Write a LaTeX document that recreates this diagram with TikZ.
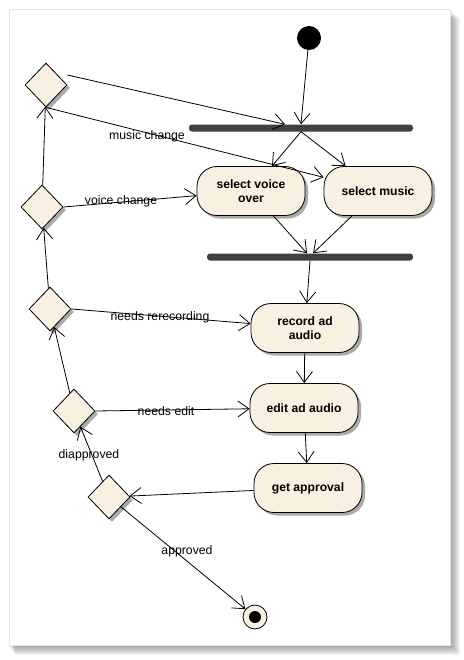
\documentclass[tikz,border=0pt]{standalone}
\usepackage{fontspec}
\setmainfont{Liberation Sans}
\usepackage{xcolor}
\usetikzlibrary{arrows.meta, shapes.geometric, shadows}

\definecolor{beige}{RGB}{248,240,224}
\definecolor{bargray}{RGB}{64,64,64}
\definecolor{shadegray}{RGB}{170,170,170}

\begin{document}
\begin{tikzpicture}[x=1bp, y=-1bp,
  action/.style={rectangle, rounded corners=20bp, draw, fill=beige, line width=0.8bp,
    minimum width=108bp, minimum height=49bp, align=center,
    font=\fontsize{12.2}{14}\selectfont\bfseries,
    drop shadow={shadow xshift=3bp, shadow yshift=-3bp, fill=shadegray, opacity=1}},
  decision/.style={diamond, draw, fill=beige, line width=0.8bp, inner sep=0,
    minimum width=42bp, minimum height=44bp,
    drop shadow={shadow xshift=3bp, shadow yshift=-3bp, fill=shadegray, opacity=1}},
  bar/.style={rectangle, fill=bargray, rounded corners=3bp, minimum height=7bp, inner sep=0},
  flow/.style={-{Straight Barb[length=11bp, width=16bp]}, line width=0.8bp},
  guard/.style={font=\fontsize{12.3}{14}\selectfont, inner sep=0}]

\useasboundingbox (0,0) rectangle (464,660);

% ==== Page and its shadow ====
\foreach \s in {1,...,10}
  \fill[black, opacity=0.045] (9+\s*0.6, 9+\s) rectangle (450+\s, 645+\s);
\fill[white] (9,9) rectangle (450,645);
\draw[black!10, line width=0.5bp] (9,9) rectangle (450,645);

% ==== Nodes ====
\node[circle, fill=black, minimum size=24bp, inner sep=0] (start) at (309,38) {};
\node[bar, minimum width=224bp] (fork) at (301,128) {};
\node[action] (voice) at (251,191) {select voice\\over};
\node[action] (music) at (378,191) {select music};
\node[bar, minimum width=206bp] (join) at (310,257) {};
\node[action] (record) at (305,328) {record ad\\audio};
\node[action] (edit) at (304,408) {edit ad audio};
\node[action] (approval) at (308,488) {get approval};
\node[circle, draw, fill=beige, line width=0.8bp, minimum size=24bp, inner sep=0] (final) at (255,617) {};
\node[circle, fill=black, minimum size=12bp, inner sep=0] (finaldot) at (final) {};

% Decisions
\node[decision] (d1) at (46,85) {};
\node[decision] (d2) at (42,207) {};
\node[decision] (d3) at (50,309) {};
\node[decision] (d4) at (74,411) {};
\node[decision] (d5) at (109,497) {};

% ==== Flows ====
\draw[flow] (start) -- (fork.north);
\draw[flow] ([yshift=10bp]d1.east) -- ([xshift=-16bp]fork.north);
\draw[flow] (fork.south) -- (voice);
\draw[flow] (fork.south) -- (music);
\draw[flow] (d1.south) -- (music);
\draw[flow] (voice) -- ([xshift=-3bp]join.north);
\draw[flow] (music) -- ([xshift=3bp]join.north);
\draw[flow] (join.south) -- (record);
\draw[flow] (record) -- (edit);
\draw[flow] (edit) -- (approval);
\draw[flow] (approval) -- (d5);
\draw[flow] (d5) -- (d4);
\draw[flow] (d5) -- (final);
\draw[flow] (d4.east) -- (edit);
\draw[flow] (d4) -- (d3);
\draw[flow] (d3.east) -- (record);
\draw[flow] (d3) -- (d2);
\draw[flow] (d2.east) -- (voice);
\draw[flow] (d2) -- (d1);

% Labels
\node[guard] (lmusic) at (147,136) {music change};
\node[guard] (lvoice) at (121,201) {voice change};
\node[guard] (lrerec) at (160,317) {needs rerecording};
\node[guard] (ledit) at (166,411) {needs edit};
\node[guard] (ldis) at (89,455) {diapproved};
\node[guard] (lok) at (187,551) {approved};

\end{tikzpicture}
\end{document}
